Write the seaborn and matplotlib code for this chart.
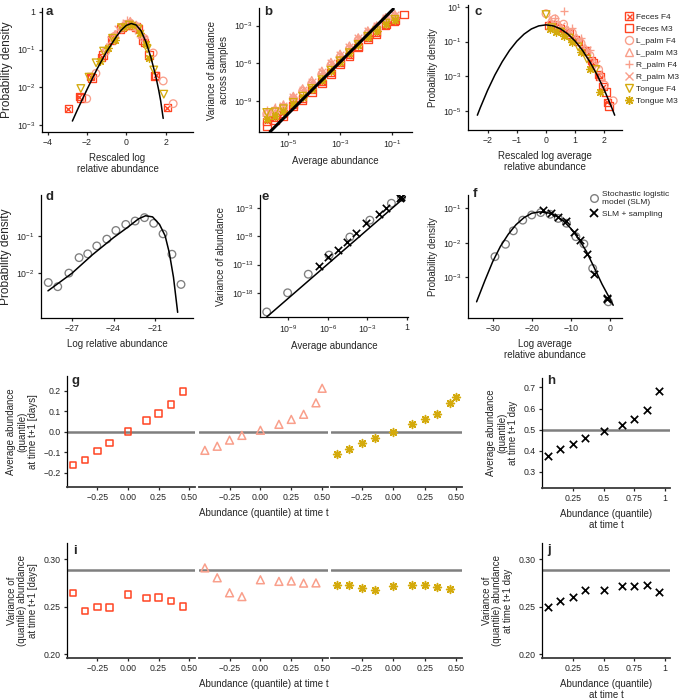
import matplotlib
matplotlib.use("Agg")
import matplotlib.pyplot as plt
import numpy as np
import seaborn as sns
from matplotlib.lines import Line2D

sns.set_style("ticks")
plt.rcParams['font.family'] = ['Liberation Sans', 'DejaVu Sans']
plt.rcParams['mathtext.default'] = 'regular'
plt.rcParams['axes.linewidth'] = 0.9
plt.rcParams['xtick.major.size'] = 2.5
plt.rcParams['ytick.major.size'] = 2.5
plt.rcParams['xtick.major.width'] = 0.9
plt.rcParams['ytick.major.width'] = 0.9
plt.rcParams['xtick.labelsize'] = 6.3
plt.rcParams['ytick.labelsize'] = 6.3
plt.rcParams['axes.labelsize'] = 7
plt.rcParams['xtick.major.pad'] = 2
plt.rcParams['ytick.major.pad'] = 2

FECES = '#ff4422'
PALM = '#f99f8b'
TONGUE = '#d4aa0c'
GREY = '#7f7f7f'

series_names = ['Feces F4', 'Feces M3', 'L_palm F4', 'L_palm M3',
                'R_palm F4', 'R_palm M3', 'Tongue F4', 'Tongue M3']
series_colors = [FECES, FECES, PALM, PALM, PALM, PALM, TONGUE, TONGUE]
series_markers = ['boxcross', 's', 'o', '^', '+', 'x', 'v', (8, 2, 0)]

# ---- panel a: rescaled log relative abundance (x, log10 density)
a_x = {
    'Feces F4': [-2.96, -2.39, -1.81, -1.25, -0.7, -0.2, 0.25, 0.6, 0.94, 1.49, 2.09],
    'Feces M3': [-2.3, -1.75, -1.2, -0.75, -0.3, 0.1, 0.5, 0.85, 1.15, 1.45],
    'L_palm F4': [-2.02, -1.55, -1.05, -0.6, -0.15, 0.2, 0.55, 0.9, 1.37, 1.88, 2.39],
    'L_palm M3': [-1.0, -0.55, -0.1, 0.2, 0.5, 0.8],
    'R_palm F4': [-0.65, -0.22, 0.04, 0.46, 0.8],
    'R_palm M3': [-0.8, -0.4, 0.0, 0.35, 0.7],
    'Tongue F4': [-2.32, -1.9, -1.54, -1.16, -0.7, -0.25, 0.15, 0.6, 1.06, 1.4, 1.91],
    'Tongue M3': [-1.36, -0.95, -0.56, -0.1, 0.3, 0.7, 1.0, 1.18],
}
a_logy = {
    'Feces F4': [-2.56, -2.25, -1.72, -1.2, -0.72, -0.42, -0.35, -0.45, -0.81, -1.68, -2.54],
    'Feces M3': [-2.28, -1.75, -1.15, -0.75, -0.45, -0.35, -0.4, -0.75, -1.15, -1.7],
    'L_palm F4': [-2.3, -1.63, -1.05, -0.65, -0.4, -0.3, -0.4, -0.7, -1.09, -1.83, -2.43],
    'L_palm M3': [-0.95, -0.6, -0.35, -0.25, -0.35, -0.6],
    'R_palm F4': [-0.6, -0.34, -0.21, -0.49, -0.65],
    'R_palm M3': [-0.75, -0.45, -0.3, -0.35, -0.55],
    'Tongue F4': [-2.03, -1.73, -1.35, -1.04, -0.7, -0.42, -0.35, -0.45, -0.98, -1.54, -2.18],
    'Tongue M3': [-1.3, -0.95, -0.74, -0.4, -0.35, -0.55, -0.85, -1.22],
}
a_curve_x = [-2.75, -2.5, -2.0, -1.5, -1.0, -0.5, -0.25, 0.0, 0.25, 0.5, 0.75,
             1.0, 1.25, 1.5, 1.65, 1.75, 1.88]
a_curve_logy = [-2.89, -2.6, -2.05, -1.52, -1.05, -0.65, -0.48, -0.36, -0.31, -0.35,
                -0.5, -0.8, -1.2, -1.7, -2.07, -2.35, -2.82]

# ---- panel b: Taylor's law (log10 mean, log10 variance)
b_logx = [-5.83, -5.51, -5.19, -4.81, -4.45, -4.10, -3.71, -3.36, -3.01,
          -2.65, -2.31, -1.94, -1.60, -1.25, -0.90]
b_logx_feces_m3 = b_logx + [-0.54]
b_logy = {
    'Feces F4': [-10.6, -10.3, -9.95, -9.3, -8.75, -8.1, -7.45, -6.7, -5.95, -5.3, -4.65, -3.95, -3.55, -2.95, -2.7],
    'Feces M3': [-10.95, -10.5, -10.2, -9.4, -8.9, -8.25, -7.6, -6.85, -6.05, -5.4, -4.75, -4.05, -3.65, -2.9, -2.6, -2.13],
    'L_palm F4': [-10.0, -9.8, -9.5, -8.8, -8.2, -7.6, -6.85, -6.15, -5.5, -4.85, -4.15, -3.6, -3.15, -2.5, -2.3],
    'L_palm M3': [-9.9, -9.6, -9.3, -8.6, -8.0, -7.35, -6.6, -5.9, -5.25, -4.6, -3.95, -3.4, -3.0, -2.35, -2.1],
    'R_palm F4': [-9.7, -9.45, -9.2, -8.7, -8.15, -7.5, -6.75, -6.05, -5.4, -4.75, -4.05, -3.5, -3.1, -2.45, -2.2],
    'R_palm M3': [-10.1, -9.75, -9.4, -8.7, -8.1, -7.45, -6.7, -6.0, -5.35, -4.7, -4.0, -3.45, -3.05, -2.4, -2.15],
    'Tongue F4': [-9.9, -9.85, -9.6, -9.1, -8.6, -8.0, -7.3, -6.55, -5.8, -5.15, -4.5, -3.85, -3.4, -2.8, -2.5],
    'Tongue M3': [-10.4, -10.2, -9.8, -9.25, -8.7, -8.05, -7.35, -6.6, -5.85, -5.2, -4.55, -3.9, -3.45, -2.85, -2.55],
}
b_line_logx = [-5.70, -0.96]
b_line_logy = [-11.42, -1.68]

# ---- panel c: rescaled log average abundance (x, log10 density)
c_x = {
    'Feces F4': [0.1, 0.4, 0.7, 1.0, 1.3, 1.55, 1.8, 1.95, 2.1],
    'Feces M3': [0.2, 0.5, 0.8, 1.1, 1.35, 1.6, 1.85, 2.05, 2.15],
    'L_palm F4': [0.0, 0.3, 0.6, 0.9, 1.2, 1.5, 1.8, 2.0, 2.3],
    'L_palm M3': [0.15, 0.45, 0.75, 1.05, 1.35, 1.65, 1.9],
    'R_palm F4': [0.3, 0.6, 0.9, 1.2, 1.5],
    'R_palm M3': [0.2, 0.5, 0.8, 1.1, 1.4, 1.7],
    'Tongue F4': [0.0, 0.2, 0.5, 0.8, 1.1, 1.4, 1.7],
    'Tongue M3': [0.15, 0.35, 0.6, 0.9, 1.2, 1.5, 1.85],
}
c_logy = {
    'Feces F4': [-0.1, -0.2, -0.5, -0.9, -1.5, -2.1, -2.9, -3.6, -4.5],
    'Feces M3': [-0.05, -0.25, -0.55, -1.0, -1.55, -2.2, -3.0, -3.9, -4.7],
    'L_palm F4': [0.6, 0.3, 0.0, -0.5, -1.1, -1.8, -2.6, -3.5, -4.4],
    'L_palm M3': [0.2, -0.05, -0.35, -0.8, -1.4, -2.2, -3.0],
    'R_palm F4': [0.35, 0.75, -0.2, -0.8, -1.5],
    'R_palm M3': [0.1, -0.1, -0.4, -0.9, -1.5, -2.3],
    'Tongue F4': [0.55, -0.2, -0.45, -0.8, -1.3, -2.0, -2.6],
    'Tongue M3': [-0.25, -0.45, -0.7, -1.05, -1.6, -2.6, -3.9],
}
c_curve_x = [-2.35, -2.25, -2.0, -1.75, -1.5, -1.25, -1.0, -0.75, -0.5, -0.25, 0.0,
             0.25, 0.5, 0.75, 1.0, 1.25, 1.5, 1.75, 2.0, 2.25, 2.35]
c_curve_logy = [-5.23, -4.80, -3.80, -2.92, -2.16, -1.51, -0.98, -0.57, -0.275, -0.10, -0.04,
                -0.10, -0.275, -0.57, -0.98, -1.51, -2.16, -2.92, -3.80, -4.80, -5.23]

# ---- panel d: SLM log relative abundance
d_x = [-28.68, -28.0, -27.2, -26.47, -25.85, -25.2, -24.48, -23.83, -23.12,
       -22.45, -21.78, -21.12, -20.45, -19.81, -19.16]
d_logy = [-2.24, -2.35, -1.99, -1.58, -1.48, -1.27, -1.09, -0.86, -0.70,
          -0.61, -0.52, -0.67, -0.95, -1.49, -2.29]
d_curve_x = [-28.7, -27.0, -25.5, -24.0, -23.0, -22.2, -21.7, -21.2, -20.7,
             -20.3, -20.0, -19.7, -19.4]
d_curve_logy = [-2.46, -2.0, -1.5, -1.05, -0.78, -0.55, -0.47, -0.5, -0.7,
                -1.0, -1.45, -2.1, -3.03]

# ---- panel e: SLM Taylor's law
e_slm_logx = [-10.64, -9.05, -7.48, -5.9, -4.32, -2.8, -1.16, -0.4]
e_slm_logy = [-21.4, -18.0, -14.7, -11.3, -8.1, -5.1, -2.1, -1.05]
e_samp_logx = [-6.65, -5.97, -5.2, -4.5, -3.82, -3.06, -2.1, -1.55, -0.54, -0.4]
e_samp_logy = [-13.2, -11.6, -10.4, -8.9, -7.45, -5.67, -4.0, -3.0, -1.2, -1.0]
e_line_logx = [-10.64, -0.1]
e_line_logy = [-22.3, -0.94]

# ---- panel f: SLM log average abundance
f_slm_x = [-29.4, -26.7, -24.7, -22.3, -20.0, -17.7, -15.3, -13.2, -11.1,
           -8.7, -6.65, -4.4, -0.4]
f_slm_logy = [-2.40, -2.04, -1.65, -1.34, -1.19, -1.12, -1.17, -1.29, -1.43,
              -1.82, -2.03, -2.74, -3.71]
f_samp_x = [-17.0, -15.1, -13.2, -11.2, -9.3, -7.6, -5.9, -4.0, -0.8, -0.7]
f_samp_logy = [-1.05, -1.13, -1.24, -1.36, -1.68, -1.92, -2.31, -2.89, -3.59, -3.62]
f_curve_x = [-34.1, -32, -30, -28, -26, -24, -22, -20, -18, -16, -14, -12, -10,
             -8, -6, -4, -2, 0, 0.85]
f_curve_logy = [-3.71, -3.1, -2.55, -2.1, -1.75, -1.47, -1.27, -1.14, -1.1, -1.12,
                -1.2, -1.35, -1.58, -1.88, -2.25, -2.72, -3.2, -3.62, -3.81]

# ---- panels g, i: quantile dynamics per environment
q_x9 = [-0.45, -0.35, -0.25, -0.15, 0.0, 0.15, 0.25, 0.35, 0.45]
q_x10 = [-0.45, -0.35, -0.25, -0.15, 0.0, 0.15, 0.25, 0.35, 0.45, 0.5]
g_feces = [-0.162, -0.138, -0.094, -0.055, 0.0, 0.055, 0.088, 0.134, 0.197]
g_palm = [-0.091, -0.071, -0.041, -0.018, 0.007, 0.036, 0.06, 0.085, 0.141, 0.212]
g_tongue = [-0.110, -0.084, -0.054, -0.032, -0.003, 0.036, 0.06, 0.086, 0.138, 0.171]
i_feces = [0.2646, 0.2457, 0.2497, 0.249, 0.2628, 0.2593, 0.2596, 0.2561, 0.2504]
i_palm = [0.2908, 0.2804, 0.2646, 0.2606, 0.2783, 0.2766, 0.277, 0.2748, 0.275]
i_tongue = [0.2733, 0.2733, 0.2698, 0.2676, 0.272, 0.2726, 0.2733, 0.271, 0.2686]

# ---- panels h, j: SLM quantile dynamics
hj_x = [0.05, 0.15, 0.25, 0.35, 0.5, 0.65, 0.75, 0.85, 0.95]
h_mean = [0.374, 0.41, 0.433, 0.462, 0.492, 0.524, 0.55, 0.593, 0.681]
j_var = [0.250, 0.2565, 0.260, 0.2676, 0.268, 0.2722, 0.2722, 0.273, 0.265]

MEAN_REF = 0.0
MEAN_REF_SLM = 0.5
VAR_REF = 0.2887

W, H = 684, 700
fig = plt.figure(figsize=(W / 100, H / 100), dpi=100)


def rect(l, r, t, b):
    return [l / W, 1 - b / H, (r - l) / W, (b - t) / H]


def pow_labels(exps):
    return ['1' if e == 0 else '$10^{%d}$' % e for e in exps]


def draw(ax, x, y, color, marker, s=30, lw=0.95):
    x = np.asarray(x, dtype=float)
    y = np.asarray(y, dtype=float)
    if marker == 'boxcross':
        sns.scatterplot(x=x, y=y, ax=ax, marker='s', s=s * 0.85, color=color,
                        facecolor='none', edgecolor=color, linewidth=lw)
        sns.scatterplot(x=x, y=y, ax=ax, marker='x', s=s * 0.4, color=color, linewidth=lw)
    elif marker in ('s', 'o', '^', 'v'):
        sns.scatterplot(x=x, y=y, ax=ax, marker=marker, s=s, color=color,
                        facecolor='none', edgecolor=color, linewidth=lw)
    else:
        sns.scatterplot(x=x, y=y, ax=ax, marker=marker, s=s, color=color, linewidth=lw)


def curve(ax, x, y, lw=1.1):
    sns.lineplot(x=np.asarray(x, dtype=float), y=np.asarray(y, dtype=float), ax=ax,
                 color='black', lw=lw, sort=False, estimator=None)


def finish(ax):
    sns.despine(ax=ax)
    ax.minorticks_off()
    for sp in ('left', 'bottom'):
        ax.spines[sp].set_color('black')


def letter(x, y, s):
    fig.text(x / W, 1 - y / H, s, fontsize=9.5, weight='bold', va='baseline', ha='left')


# ================= a
ax = fig.add_axes(rect(42, 193, 8, 132))
ax.set_yscale('log')
for name, c, m in zip(series_names, series_colors, series_markers):
    draw(ax, a_x[name], 10 ** np.array(a_logy[name]), c, m)
curve(ax, a_curve_x, 10 ** np.array(a_curve_logy))
ax.set_xlim(-4.3, 3.4)
ax.set_ylim(10 ** -3.18, 10 ** 0.1)
ax.set_xticks([-4, -2, 0, 2], ['\u22124', '\u22122', '0', '2'])
ax.set_yticks([1, 1e-1, 1e-2, 1e-3], pow_labels([0, -1, -2, -3]))
ax.set_xlabel('Rescaled log\nrelative abundance', linespacing=1.15)
ax.set_ylabel('Probability density', fontsize=8.6, labelpad=3)
finish(ax)

# ================= b
ax = fig.add_axes(rect(259, 412, 8, 132))
ax.set_xscale('log')
ax.set_yscale('log')
curve(ax, 10 ** np.array(b_line_logx), 10 ** np.array(b_line_logy), lw=2.2)
for name, c, m in zip(series_names, series_colors, series_markers):
    bx = b_logx_feces_m3 if name == 'Feces M3' else b_logx
    draw(ax, 10 ** np.array(bx), 10 ** np.array(b_logy[name]), c, m)
ax.set_xlim(10 ** -6.13, 10 ** -0.24)
ax.set_ylim(10 ** -11.45, 10 ** -1.6)
ax.set_xticks([1e-5, 1e-3, 1e-1], pow_labels([-5, -3, -1]))
ax.set_yticks([1e-3, 1e-6, 1e-9], pow_labels([-3, -6, -9]))
ax.set_xlabel('Average abundance')
ax.set_ylabel('Variance of abundance\nacross samples', linespacing=1.15)
finish(ax)

# ================= c
ax = fig.add_axes(rect(468, 622, 5, 130))
ax.set_yscale('log')
for name, c, m in zip(series_names, series_colors, series_markers):
    draw(ax, c_x[name], 10 ** np.array(c_logy[name]), c, m)
curve(ax, c_curve_x, 10 ** np.array(c_curve_logy))
ax.set_xlim(-2.67, 2.6)
ax.set_ylim(10 ** -6.08, 10 ** 1.1)
ax.set_xticks([-2, -1, 0, 1, 2], ['\u22122', '\u22121', '0', '1', '2'])
ax.set_yticks([10, 1e-1, 1e-3, 1e-5], pow_labels([1, -1, -3, -5]))
ax.set_xlabel('Rescaled log average\nrelative abundance', linespacing=1.15)
ax.set_ylabel('Probability density')
finish(ax)

handles = []
for name, c, m in zip(series_names, series_colors, series_markers):
    if m == 'boxcross':
        h = (Line2D([], [], ls='none', marker='s', mfc='none', mec=c, mew=1.0, ms=5.2),
             Line2D([], [], ls='none', marker='x', color=c, mew=1.0, ms=3.6))
    elif m in ('s', 'o', '^', 'v'):
        h = Line2D([], [], ls='none', marker=m, mfc='none', mec=c, mew=1.0, ms=5.8)
    else:
        h = Line2D([], [], ls='none', marker=m, color=c, mew=1.0, ms=6.4)
    handles.append(h)
fig.legend(handles, series_names, loc='upper left', bbox_to_anchor=(625 / W, 1 - 13 / H),
           frameon=False, fontsize=6.0, handlelength=1.0, handletextpad=0.35,
           labelspacing=0.5, borderpad=0, borderaxespad=0)

# ================= d
ax = fig.add_axes(rect(41, 193, 195, 318))
ax.set_yscale('log')
draw(ax, d_x, 10 ** np.array(d_logy), GREY, 'o', s=30)
curve(ax, d_curve_x, 10 ** np.array(d_curve_logy))
ax.set_xlim(-29.2, -18.3)
ax.set_ylim(10 ** -3.18, 10 ** 0.08)
ax.set_xticks([-27, -24, -21], ['\u221227', '\u221224', '\u221221'])
ax.set_yticks([1e-1, 1e-2], pow_labels([-1, -2]))
ax.set_xlabel('Log relative abundance')
ax.set_ylabel('Probability density', fontsize=8.6, labelpad=3)
finish(ax)

# ================= e
ax = fig.add_axes(rect(260, 408, 195, 317))
ax.set_xscale('log')
ax.set_yscale('log')
curve(ax, 10 ** np.array(e_line_logx), 10 ** np.array(e_line_logy))
draw(ax, 10 ** np.array(e_slm_logx), 10 ** np.array(e_slm_logy), GREY, 'o', s=30)
draw(ax, 10 ** np.array(e_samp_logx), 10 ** np.array(e_samp_logy), 'black', 'x', s=28, lw=1.2)
ax.set_xlim(10 ** -11.15, 10 ** 0.1)
ax.set_ylim(10 ** -22.3, 10 ** -0.63)
ax.set_xticks([1e-9, 1e-6, 1e-3, 1], pow_labels([-9, -6, -3, 0]))
ax.set_yticks([1e-3, 1e-8, 1e-13, 1e-18], pow_labels([-3, -8, -13, -18]))
ax.set_xlabel('Average abundance')
ax.set_ylabel('Variance of abundance')
finish(ax)

# ================= f
ax = fig.add_axes(rect(468, 622, 195, 318))
ax.set_yscale('log')
curve(ax, f_curve_x, 10 ** np.array(f_curve_logy))
draw(ax, f_slm_x, 10 ** np.array(f_slm_logy), GREY, 'o', s=30)
draw(ax, f_samp_x, 10 ** np.array(f_samp_logy), 'black', 'x', s=28, lw=1.2)
ax.set_xlim(-36.3, 3.1)
ax.set_ylim(10 ** -4.18, 10 ** -0.61)
ax.set_xticks([-30, -20, -10, 0], ['\u221230', '\u221220', '\u221210', '0'])
ax.set_yticks([1e-1, 1e-2, 1e-3], pow_labels([-1, -2, -3]))
ax.set_xlabel('Log average\nrelative abundance', linespacing=1.15)
ax.set_ylabel('Probability density')
finish(ax)
slm_handles = [Line2D([], [], ls='none', marker='o', mfc='none', mec=GREY, mew=1.0, ms=5.5),
               Line2D([], [], ls='none', marker='x', color='black', mew=1.3, ms=5.5)]
fig.legend(slm_handles, ['Stochastic logistic\nmodel (SLM)', 'SLM + sampling'],
           loc='upper left', bbox_to_anchor=(590 / W, 1 - 191 / H), frameon=False,
           fontsize=6.0, handlelength=1.0, handletextpad=0.5, labelspacing=0.5,
           borderpad=0, borderaxespad=0)

# ================= g, i (three environments)
qtick = [-0.25, 0.0, 0.25, 0.5]
qtick_lab = ['\u22120.25', '0.00', '0.25', '0.50']
env_x = [(67, 195), (199, 328), (331, 462)]


def quantile_row(t, b, vals, yl, ylabel, yticks, ylabs, ref):
    specs = [(q_x9, vals[0], FECES, 's'),
             (q_x10 if len(vals[1]) == 10 else q_x9, vals[1], PALM, '^'),
             (q_x10 if len(vals[2]) == 10 else q_x9, vals[2], TONGUE, (8, 2, 0))]
    for k, ((l, r), (xs, ys, c, m)) in enumerate(zip(env_x, specs)):
        ax = fig.add_axes(rect(l, r, t, b))
        ax.axhline(ref, color=GREY, lw=1.8, zorder=1)
        draw(ax, xs, ys, c, m, s=22 if m == 's' else 32, lw=1.1)
        ax.set_xlim(-0.4975, 0.5475)
        ax.set_ylim(*yl)
        ax.set_xticks(qtick, qtick_lab)
        finish(ax)
        ax.spines['bottom'].set_color('#3a3a3a')
        ax.spines['bottom'].set_linewidth(1.3)
        if k == 0:
            ax.set_yticks(yticks, ylabs)
            ax.set_ylabel(ylabel, linespacing=1.1)
        else:
            ax.spines['left'].set_visible(False)
            ax.tick_params(left=False, labelleft=False)
        if k == 1:
            ax.set_xlabel('Abundance (quantile) at time t')


quantile_row(376, 487, [g_feces, g_palm, g_tongue], (-0.27, 0.272),
             'Average abundance\n(quantile)\nat time t+1 [days]',
             [-0.2, -0.1, 0.0, 0.1, 0.2], ['\u22120.2', '\u22120.1', '0.0', '0.1', '0.2'], MEAN_REF)
quantile_row(543, 658, [i_feces, i_palm, i_tongue], (0.196, 0.317),
             'Variance of\n(quantile) abundance\nat time t+1 [days]',
             [0.20, 0.25, 0.30], ['0.20', '0.25', '0.30'], VAR_REF)

# ================= h, j (SLM)
for t, b, ys, yl, yticks, ylabs, ref, ylabel in [
        (378, 488, h_mean, (0.223, 0.745), [0.3, 0.4, 0.5, 0.6, 0.7],
         ['0.3', '0.4', '0.5', '0.6', '0.7'], MEAN_REF_SLM,
         'Average abundance\n(quantile)\nat time t+1 day'),
        (543, 658, j_var, (0.196, 0.317), [0.20, 0.25, 0.30],
         ['0.20', '0.25', '0.30'], VAR_REF,
         'Variance of\n(quantile) abundance\nat time t+1 day')]:
    ax = fig.add_axes(rect(542, 670, t, b))
    ax.axhline(ref, color=GREY, lw=1.8, zorder=1)
    draw(ax, hj_x, ys, 'black', 'x', s=28, lw=1.25)
    ax.set_xlim(0.0, 1.04)
    ax.set_ylim(*yl)
    ax.set_xticks([0.25, 0.5, 0.75, 1.0], ['0.25', '0.5', '0.75', '1'])
    ax.set_yticks(yticks, ylabs)
    ax.set_xlabel('Abundance (quantile)\nat time t', linespacing=1.15)
    ax.set_ylabel(ylabel, linespacing=1.1)
    finish(ax)
    ax.spines['bottom'].set_color('#3a3a3a')
    ax.spines['bottom'].set_linewidth(1.3)

letter(46, 15, 'a')
letter(264, 15, 'b')
letter(474, 15, 'c')
letter(46, 200, 'd')
letter(262, 200, 'e')
letter(473, 197, 'f')
letter(72, 384, 'g')
letter(547, 384, 'h')
letter(73, 554, 'i')
letter(547, 553, 'j')

fig.savefig('out.png', dpi=100)
